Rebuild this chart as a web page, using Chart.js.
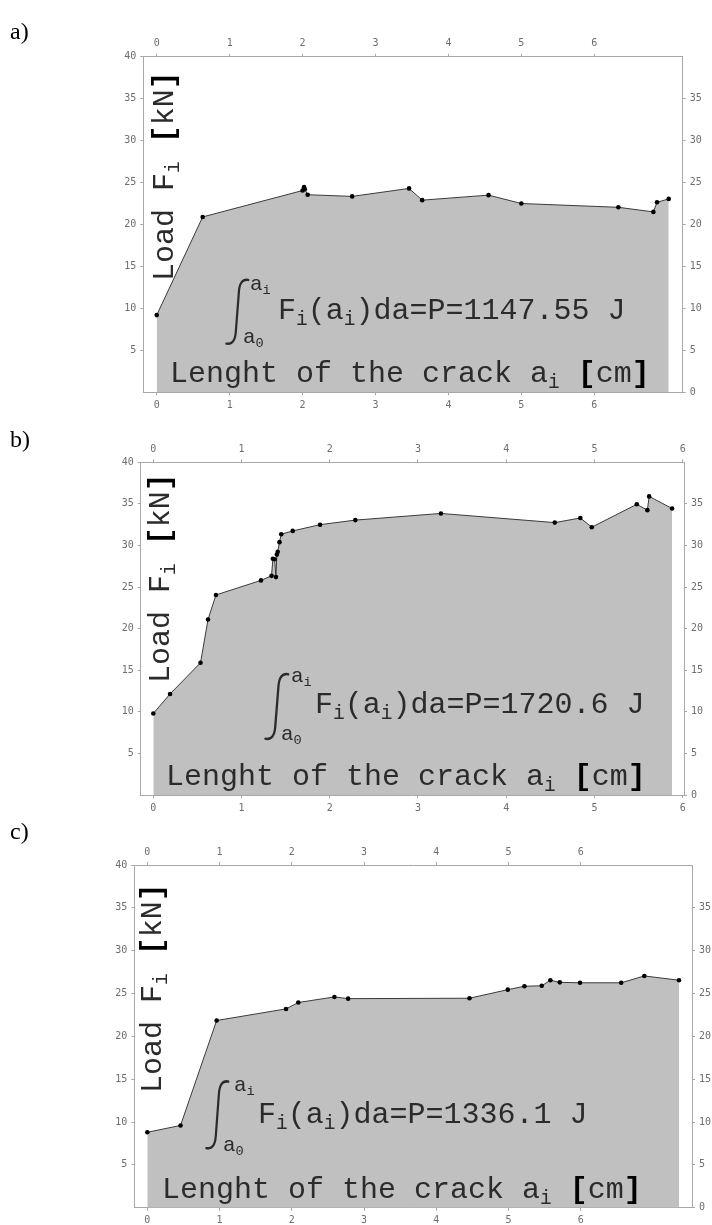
<!DOCTYPE html>
<html>
<head>
<meta charset="utf-8">
<script src="https://cdn.jsdelivr.net/npm/chart.js@4.4.1/dist/chart.umd.min.js"></script>
<style>
  body { margin: 0; background: #fff; }
  #wrap { position: relative; width: 712px; height: 1225px; overflow: hidden; }
  #wrap canvas { position: absolute; left: 0; }
  .tag { position: absolute; left: 10px; font: 24px "Liberation Serif"; line-height: 24px; color: #000; }
</style>
</head>
<body>
<div id="wrap">
  <canvas id="chart-a" width="712" height="410" style="top:20px"></canvas>
  <canvas id="chart-b" width="712" height="400" style="top:430px"></canvas>
  <canvas id="chart-c" width="712" height="395" style="top:830px"></canvas>
  <div class="tag" style="top:19px">a)</div>
  <div class="tag" style="top:427px">b)</div>
  <div class="tag" style="top:819px">c)</div>
</div>
<script>
const xTicks = [0, 1, 2, 3, 4, 5, 6];
const leftTicks = [5, 10, 15, 20, 25, 30, 35, 40];
const rightTicks = [0, 5, 10, 15, 20, 25, 30, 35];

// a) crack length [cm] / load [kN]
const aX = [0, 0.63, 2.0, 2.02, 2.03, 2.07, 2.68, 3.46, 3.64, 4.55, 5.0, 6.33, 6.81, 6.86, 7.02];
const aY = [9.2, 20.9, 24.05, 24.45, 24.2, 23.55, 23.35, 24.3, 22.9, 23.5, 22.5, 22.05, 21.5, 22.65, 23.05];

// b)
const bX = [0, 0.19, 0.535, 0.62, 0.71, 1.22, 1.34, 1.355, 1.375, 1.39, 1.40, 1.41, 1.43, 1.45, 1.58, 1.89, 2.29, 3.26, 4.55, 4.84, 4.97, 5.48, 5.60, 5.62, 5.88];
const bY = [9.8, 12.15, 15.9, 21.1, 24.05, 25.8, 26.35, 28.4, 28.35, 26.2, 28.9, 29.25, 30.4, 31.35, 31.75, 32.5, 33.05, 33.85, 32.75, 33.3, 32.2, 34.95, 34.25, 35.9, 34.45];

// c)
const cX = [0, 0.46, 0.96, 1.92, 2.09, 2.59, 2.78, 4.46, 4.99, 5.22, 5.46, 5.58, 5.71, 5.99, 6.56, 6.88, 7.36];
const cY = [8.8, 9.6, 21.85, 23.2, 23.95, 24.6, 24.4, 24.45, 25.45, 25.85, 25.9, 26.55, 26.3, 26.25, 26.25, 27.05, 26.55];

const energyA = '1147.55';
const energyB = '1720.6';
const energyC = '1336.1';

const frameColor = '#a8a8a8';
const tickFont = { family: 'DejaVu Sans Mono', size: 10 };
const textFont = '"Liberation Mono"';
const inkColor = '#2b2b2b';

function axis(pos, min, max, ticks, size) {
  const horiz = pos === 'top' || pos === 'bottom';
  return {
    type: 'linear', position: pos, min, max, display: true,
    grid: { drawOnChartArea: false, drawTicks: true, tickLength: 3, color: frameColor },
    border: { display: true, color: frameColor, width: 1 },
    ticks: { font: tickFont, color: '#6e6e6e', padding: 4, autoSkip: false, maxRotation: 0 },
    afterBuildTicks: s => { s.ticks = ticks.map(v => ({ value: v })); },
    afterFit: s => { if (horiz) s.height = size; else s.width = size; }
  };
}

function drawRich(ctx, parts, x, y, size, vertical) {
  ctx.save();
  ctx.translate(x, y);
  if (vertical) ctx.rotate(-Math.PI / 2);
  ctx.textBaseline = 'alphabetic';
  ctx.textAlign = 'left';
  let cx = 0;
  for (const p of parts) {
    const fs = p.sub ? size * 0.65 : size;
    ctx.font = (p.bold ? 'bold ' : '') + fs + 'px ' + textFont;
    ctx.fillStyle = p.bold ? '#000' : inkColor;
    ctx.fillText(p.t, cx, p.sub ? size * 0.2 : 0);
    cx += ctx.measureText(p.t).width;
  }
  ctx.restore();
}

// integral sign as a real glyph, squeezed into its box
function drawIntegral(ctx, x, top, w, h) {
  ctx.save();
  ctx.font = '300 60px Lato';
  ctx.fillStyle = inkColor;
  const m = ctx.measureText('\u222B');
  const gw = m.actualBoundingBoxLeft + m.actualBoundingBoxRight;
  const gh = m.actualBoundingBoxAscent + m.actualBoundingBoxDescent;
  ctx.translate(x, top);
  ctx.scale(w / gw, h / gh);
  ctx.fillText('\u222B', m.actualBoundingBoxLeft, m.actualBoundingBoxAscent);
  ctx.restore();
}

function drawNotes(ctx, n) {
  const oy = n.top;
  drawRich(ctx, [{ t: 'Load F' }, { t: 'i', sub: 1 }, { t: ' ' }, { t: '[', bold: 1 }, { t: 'kN' }, { t: ']', bold: 1 }],
    n.load[0], n.load[1] - oy, 30, true);
  drawIntegral(ctx, n.integral[0], n.integral[1] - oy, n.integral[2], n.integral[3]);
  drawRich(ctx, [{ t: 'a' }, { t: 'i', sub: 1 }], n.upper[0], n.upper[1] - oy, 21);
  drawRich(ctx, [{ t: 'a' }, { t: '0', sub: 1 }], n.lower[0], n.lower[1] - oy, 21);
  drawRich(ctx, [{ t: 'F' }, { t: 'i', sub: 1 }, { t: '(a' }, { t: 'i', sub: 1 }, { t: ')da=P=' + n.energy + ' J' }],
    n.formula[0], n.formula[1] - oy, 30);
  drawRich(ctx, [{ t: 'Lenght of the crack a' }, { t: 'i', sub: 1 }, { t: ' ' }, { t: '[', bold: 1 }, { t: 'cm' }, { t: ']', bold: 1 }],
    n.length[0], n.length[1] - oy, 30);
}

function makeChart(id, xs, ys, xMin, xMax, box, notes) {
  return new Chart(document.getElementById(id), {
    type: 'line',
    data: {
      datasets: [{
        data: xs.map((x, i) => ({ x, y: ys[i] })),
        borderColor: '#3a3a3a', borderWidth: 1,
        backgroundColor: '#c0c0c0', fill: 'origin',
        pointRadius: 2.3, pointBackgroundColor: '#000', pointBorderWidth: 0,
        tension: 0
      }]
    },
    options: {
      responsive: false, animation: false, devicePixelRatio: 1,
      layout: { padding: 0 },
      plugins: { legend: { display: false }, tooltip: { enabled: false } },
      scales: {
        x: axis('bottom', xMin, xMax, xTicks, box.bottom),
        x2: axis('top', xMin, xMax, xTicks, box.top),
        y: axis('left', 0, 40, leftTicks, box.left),
        y2: axis('right', 0, 40, rightTicks, box.right)
      }
    },
    plugins: [{ id: 'notes', afterDatasetsDraw(chart) { drawNotes(chart.ctx, notes); } }]
  });
}

makeChart('chart-a', aX, aY, -0.184, 7.212,
  { left: 143.3, right: 29.3, top: 36.7, bottom: 37.7 },
  { top: 20, energy: energyA, load: [173, 281], integral: [225, 278, 25, 67], upper: [250, 290], lower: [243, 343], formula: [278, 319], length: [170, 382] });

makeChart('chart-b', bX, bY, -0.143, 6.015,
  { left: 140.7, right: 28, top: 32.3, bottom: 35 },
  { top: 430, energy: energyB, load: [169, 683], integral: [264, 672, 26, 68], upper: [291, 682], lower: [281, 740], formula: [315, 713], length: [166, 785] });

makeChart('chart-c', cX, cY, -0.18, 7.54,
  { left: 134.3, right: 20, top: 35, bottom: 17.3 },
  { top: 830, energy: energyC, load: [161, 1093], integral: [205, 1080, 25, 70], upper: [234, 1091], lower: [223, 1151], formula: [258, 1123], length: [162, 1198] });
</script>
</body>
</html>
